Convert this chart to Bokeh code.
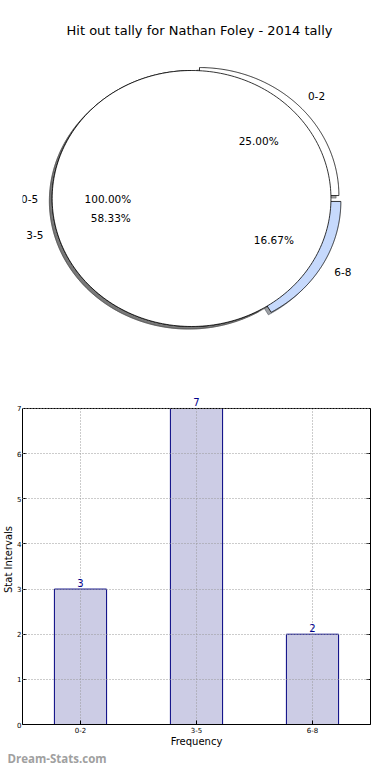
import numpy as np
from bokeh.plotting import figure
from bokeh.models import (Range1d, FactorRange, ColumnDataSource, Label, FixedTicker,
                          LinearAxis, Span, Title)
from bokeh.layouts import column
from bokeh.core.properties import value
from bokeh.embed import file_html
from bokeh.resources import INLINE

# ---------------- data ----------------
title_text = "Hit out tally for Nathan Foley - 2014 tally"
categories = ["0-2", "3-5", "6-8"]
counts = [3, 7, 2]
total_label = ["0-5"]
total_count = [12]
y_ticks = [0, 1, 2, 3, 4, 5, 6, 7]
x_axis_title = "Frequency"
y_axis_title = "Stat Intervals"
watermark = "Dream-Stats.com"

# ---------------- styles ----------------
pie_colors = ["#ffffff", "#ffffff", "#c6d9fc"]
explode_dx = [0.057, 0.0, 0.071]
explode_dy = [0.023, 0.0, -0.023]
FONT = "DejaVu Sans"

W = 374
PH = 377
BH = 387
BL, BR = 18, 4                 # shared left/right borders (frames aligned in column)
FW = W - BL - BR               # frame width
RX, RY = 141.0, 128.0          # px per pie radius unit
CX, CY = 189.0 - BL, 198.0     # pie centre in frame px (from frame top-left)
Y_HEAD = 0.31                  # head-room above the top tick for the value labels


def shade(hexcol, f=0.3):
    h = hexcol.lstrip("#")
    r, g, b = (int(h[i:i + 2], 16) for i in (0, 2, 4))
    return "#%02x%02x%02x" % (int(r * f), int(g * f), int(b * f))


def wedge(cx, cy, t1, t2, full=False):
    t = np.radians(np.linspace(t1, t2, 241))
    xs = cx + np.cos(t)
    ys = cy + np.sin(t)
    if not full:
        xs = np.concatenate([[cx], xs, [cx]])
        ys = np.concatenate([[cy], ys, [cy]])
    return list(xs), list(ys)


# ---------------- pie figure ----------------
p1 = figure(width=W, height=PH,
            x_range=Range1d(-CX / RX, (FW - CX) / RX),
            y_range=Range1d(-(PH - CY) / RY, CY / RY),
            x_axis_location=None, y_axis_location=None,
            output_backend="svg", toolbar_location=None,
            min_border_left=BL, min_border_right=BR, min_border_top=0, min_border_bottom=0)
p1.grid.visible = False
p1.outline_line_color = None

tot = float(sum(counts))
fracs = [c / tot for c in counts]
starts = np.concatenate([[0.0], np.cumsum(fracs)[:-1]]) * 360.0
ends = np.cumsum(fracs) * 360.0

w_xs, w_ys, s_xs, s_ys, s_cols = [], [], [], [], []
lab_x, lab_y, lab_t, lab_a = [], [], [], []
pct_x, pct_y, pct_t = [], [], []
for i, cat in enumerate(categories):
    cx, cy = explode_dx[i], explode_dy[i]
    xs, ys = wedge(cx, cy, starts[i], ends[i])
    w_xs.append(xs); w_ys.append(ys)
    sx, sy = wedge(cx - 0.02, cy - 0.02, starts[i], ends[i])
    s_xs.append(sx); s_ys.append(sy); s_cols.append(shade(pie_colors[i]))
    mid = np.radians((starts[i] + ends[i]) / 2.0)
    lx = cx + 1.1 * np.cos(mid)
    lab_x.append(lx); lab_y.append(cy + 1.1 * np.sin(mid)); lab_t.append(cat)
    lab_a.append("left" if lx > 0 else "right")
    pct_x.append(cx + 0.6 * np.cos(mid)); pct_y.append(cy + 0.6 * np.sin(mid))
    pct_t.append("%.2f%%" % (100.0 * fracs[i]))

# full "0-5" pie drawn over the top
ftot = total_count[0] / float(sum(total_count))
fx, fy = wedge(0.0, 0.0, 0.0, 360.0 * ftot, full=True)
fsx, fsy = wedge(-0.02, -0.02, 0.0, 360.0 * ftot, full=True)
fmid = np.radians(180.0 * ftot)
lab_x.append(1.1 * np.cos(fmid)); lab_y.append(1.1 * np.sin(fmid)); lab_t.append(total_label[0])
lab_a.append("left" if np.cos(fmid) > 0 else "right")
pct_x.append(0.6 * np.cos(fmid)); pct_y.append(0.6 * np.sin(fmid)); pct_t.append("%.2f%%" % (100.0 * ftot))

# shadows first, then wedges
p1.patches(xs=s_xs + [fsx], ys=s_ys + [fsy], fill_color=s_cols + ["#4d4d4d"],
           line_color=s_cols + ["#4d4d4d"], fill_alpha=0.5, line_alpha=0.5, line_width=1)
p1.patches(xs=w_xs, ys=w_ys, fill_color=pie_colors, line_color="black", line_width=0.8)
p1.patches(xs=[fx], ys=[fy], fill_color="#ffffff", line_color="black", line_width=0.8)

lab_src = ColumnDataSource(dict(x=lab_x, y=lab_y, text=lab_t, align=lab_a))
p1.text(x="x", y="y", text="text", text_align="align", text_baseline="middle",
        text_font=value(FONT), text_font_size="10.5px", text_color="black", source=lab_src)
pct_src = ColumnDataSource(dict(x=pct_x, y=pct_y, text=pct_t))
p1.text(x="x", y="y", text="text", text_align="center", text_baseline="middle",
        text_font=value(FONT), text_font_size="10.5px", text_color="black", source=pct_src)

p1.add_layout(Label(x=195 - BL, y=PH - 30, x_units="screen", y_units="screen", text=title_text,
                    text_align="center", text_baseline="middle", text_font=FONT,
                    text_font_size="13px", text_color="black"))

# ---------------- bar figure ----------------
top_tick = max(y_ticks)
p2 = figure(width=W, height=BH, x_range=FactorRange(factors=categories),
            y_range=Range1d(min(y_ticks), top_tick + Y_HEAD), output_backend="svg",
            toolbar_location=None,
            min_border_top=17, min_border_bottom=0, min_border_right=BR, min_border_left=BL)
src = ColumnDataSource(dict(cat=categories, count=counts,
                            base=[min(y_ticks)] * len(categories),
                            top=[top_tick] * len(categories)))
p2.vbar(x="cat", top="count", width=0.45, source=src, fill_color="#ccccE5",
        line_color="#000080", line_width=1)
# vertical dotted grid lines at the categories (stop at the top tick)
p2.segment(x0="cat", y0="base", x1="cat", y1="top", source=src, line_color="#999999",
           line_dash="1 2", line_width=1)
for i, c in enumerate(counts):
    p2.add_layout(Label(x=i + 0.5, y=c, y_offset=2, text=str(c), text_align="center",
                        text_baseline="bottom", text_font=FONT, text_font_size="10px",
                        text_color="#00008b"))

p2.xgrid.visible = False
p2.ygrid.grid_line_color = "#999999"
p2.ygrid.grid_line_dash = "1 2"
p2.ygrid.level = "overlay"
p2.outline_line_color = None

p2.yaxis.ticker = FixedTicker(ticks=y_ticks)
p2.yaxis.bounds = (min(y_ticks), top_tick)
right_ax = LinearAxis(ticker=FixedTicker(ticks=y_ticks), bounds=(min(y_ticks), top_tick),
                      major_label_overrides={t: "" for t in y_ticks},
                      major_label_standoff=0, major_label_text_font_size="1px")
p2.add_layout(right_ax, "right")
for ax in (p2.xaxis[0], p2.yaxis[0], right_ax):
    ax.major_tick_in = 4
    ax.major_tick_out = 0
    ax.minor_tick_line_color = None
    ax.axis_line_color = "black"
    ax.major_tick_line_color = "black"
for ax in (p2.xaxis[0], p2.yaxis[0]):
    ax.major_label_text_font = FONT
    ax.major_label_text_font_size = "7px"
    ax.major_label_text_color = "black"
    ax.axis_label_text_font = FONT
    ax.axis_label_text_font_size = "10px"
    ax.axis_label_text_font_style = "normal"
    ax.axis_label_text_color = "black"
p2.xaxis[0].axis_label = x_axis_title
p2.yaxis[0].axis_label = y_axis_title
p2.xaxis[0].major_label_standoff = 2
p2.yaxis[0].major_label_standoff = 1
p2.xaxis[0].axis_label_standoff = 0
p2.yaxis[0].axis_label_standoff = 0
p2.add_layout(Span(location=top_tick, dimension="width", line_color="black", line_width=1))

p2.add_layout(Title(text=watermark, align="left", offset=-(BL - 3), standoff=-2,
                    text_font="Open Sans", text_font_style="bold", text_font_size="11.5px",
                    text_color="#a0a0a0"), "below")

layout = column(p1, p2, spacing=0)
open("out.html", "w").write(file_html(layout, INLINE))
